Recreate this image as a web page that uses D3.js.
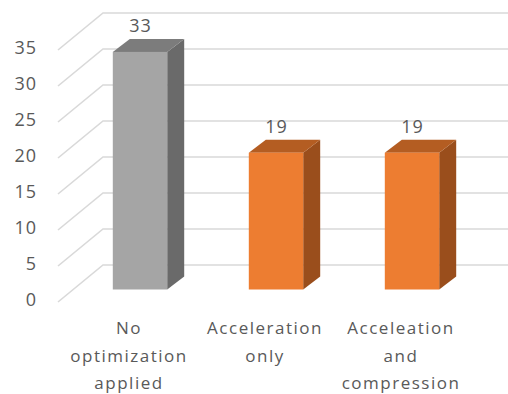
<!DOCTYPE html>
<html><head><meta charset="utf-8">
<script src="https://cdn.jsdelivr.net/npm/d3@7"></script>
<style>body{margin:0;background:#fff}svg{display:block}</style>
</head><body><svg id="c" width="508" height="394"></svg>
<script>
// ---- data ----
const categories = ["No optimization applied", "Acceleration only", "Acceleation and compression"];
const values = [33, 19, 19];
const tickValues = [0, 5, 10, 15, 20, 25, 30, 35];

// ---- styles ----
const palette = [
  {front: "#a5a5a5", top: "#7c7c7c", side: "#6a6a6a"},
  {front: "#ed7d31", top: "#b45d22", side: "#9a4e1c"},
  {front: "#ed7d31", top: "#b45d22", side: "#9a4e1c"}
];
const textColor = "#595959";
const gridColor = "#d9d9d9";
const font = "'Open Sans', sans-serif";

const W = 508, H = 394;
const WX = 45, WY = -37;     // wall depth (oblique)
const FX = 15, FY = -12.5;   // bar front plane offset from floor front
const BX = 17, BY = -13;     // bar depth

const svg = d3.select("#c");
const y = d3.scaleLinear().domain([0, 35]).range([302, 50]);
const x = d3.scaleBand().domain(categories).range([57, 465]).padding(0);
const bw = x.bandwidth() * 0.4;
const floorLeft = 58;

// gridlines (left wall diagonal + back wall)
svg.append("g").selectAll("path").data(tickValues).join("path")
  .attr("d", v => `M${floorLeft},${y(v)}L${floorLeft + WX},${y(v) + WY}L${W},${y(v) + WY}`)
  .attr("fill", "none").attr("stroke", gridColor).attr("stroke-width", 1.6);

// y axis labels
const ax = svg.append("g").attr("transform", "translate(37,-2.5)")
  .call(d3.axisLeft(y).tickValues(tickValues).tickSize(0).tickPadding(0));
ax.select(".domain").remove();
ax.selectAll("text").attr("fill", textColor).style("font-family", font)
  .style("font-size", "18px").style("letter-spacing", "1px");

// bars
const bars = svg.append("g").selectAll("g").data(categories.map((c, i) => ({c, v: values[i], i}))).join("g");
bars.each(function(d) {
  const g = d3.select(this);
  const col = palette[d.i];
  const x0 = x(d.c) + x.bandwidth() / 2 - bw / 2 + FX, x1 = x0 + bw;
  const yt = y(d.v) + FY, yb = y(0) + FY;
  g.append("path").attr("d", `M${x1},${yt}L${x1 + BX},${yt + BY}L${x1 + BX},${yb + BY}L${x1},${yb}Z`).attr("fill", col.side);
  g.append("path").attr("d", `M${x0},${yt}L${x0 + BX},${yt + BY}L${x1 + BX},${yt + BY}L${x1},${yt}Z`).attr("fill", col.top);
  g.append("rect").attr("x", x0).attr("y", yt).attr("width", bw).attr("height", yb - yt).attr("fill", col.front);
  g.append("text").attr("x", (x0 + x1) / 2 + 0.5).attr("y", yt + BY - 7)
    .attr("text-anchor", "middle").attr("fill", textColor)
    .style("font-family", font).style("font-size", "18px").style("letter-spacing", "1px").text(d.v);
});

// category labels
const cl = svg.append("g").selectAll("text").data(categories).join("text")
  .attr("text-anchor", "middle").attr("fill", textColor)
  .style("font-family", font).style("font-size", "17px").style("letter-spacing", "1.5px")
  .attr("transform", d => `translate(${x(d) + x.bandwidth() / 2 + 4},334)`);
cl.selectAll("tspan").data(d => d.split(" ")).join("tspan")
  .attr("x", 0).attr("dy", (w, j) => j === 0 ? 0 : 27.5).text(w => w);
</script></body></html>
